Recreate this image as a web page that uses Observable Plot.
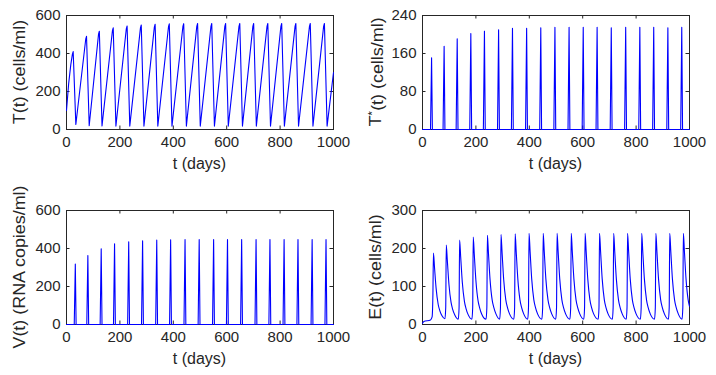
<!DOCTYPE html>
<html><head><meta charset="utf-8">
<script src="https://cdn.jsdelivr.net/npm/d3@7"></script>
<script src="https://cdn.jsdelivr.net/npm/@observablehq/plot@0.6"></script>
<style>
html,body{margin:0;padding:0;background:#fff;}
#fig{position:relative;width:716px;height:375px;overflow:hidden;background:#fff;}
#fig > div{position:absolute;}
</style></head><body><div id="fig"></div>
<script>
// ---- tick values ----
const xTickValues = [0, 200, 400, 600, 800, 1000];
const yTicksT = [0, 200, 400, 600];
const yTicksTstar = [0, 80, 160, 240];
const yTicksV = [0, 200, 400, 600];
const yTicksE = [0, 100, 200, 300];

// ---- T(t) : uninfected cells ----
const T_day = [0, 8, 16, 22, 25, 35,
  72, 75, 85, 120, 123, 133, 172, 175, 185, 224, 227, 237, 277, 280, 290,
  329, 332, 342, 382, 385, 395, 436, 439, 449, 488, 491, 501, 541, 544, 554,
  593, 596, 606, 646, 649, 659, 698, 701, 711, 751, 754, 764, 803, 806, 816,
  856, 859, 869, 910, 913, 923, 963, 966, 976, 1000];
const T_val = [100, 240, 340, 395, 410, 26,
  475, 490, 20, 502, 517, 19, 520, 535, 18, 530, 545, 18, 535, 550, 18,
  539, 554, 18, 541, 556, 18, 542, 557, 18, 543, 558, 18, 543, 558, 18,
  543, 558, 18, 543, 558, 18, 543, 558, 18, 543, 558, 18, 543, 558, 18,
  543, 558, 18, 543, 558, 18, 543, 558, 18, 300];

// ---- T*(t) : infected cells ----
const Tstar_day = [0, 30, 34, 37, 77, 81, 84, 126, 130, 133, 177, 181, 184,
  228, 232, 235, 281, 285, 288, 333, 337, 340, 386, 390, 393, 439, 443, 446,
  492, 496, 499, 545, 549, 552, 598, 602, 605, 650, 654, 657, 703, 707, 710,
  757, 761, 764, 810, 814, 817, 862, 866, 869, 915, 919, 922, 967, 971, 974, 1000];
const Tstar_val = [0, 0, 151, 0, 0, 175, 0, 0, 191, 0, 0, 202, 0,
  0, 207, 0, 0, 210, 0, 0, 213, 0, 0, 213, 0, 0, 214, 0,
  0, 215, 0, 0, 215, 0, 0, 215, 0, 0, 215, 0, 0, 214, 0,
  0, 215, 0, 0, 215, 0, 0, 215, 0, 0, 214, 0, 0, 215, 0, 0];

// ---- V(t) : virus ----
const V_day = [0, 29, 33, 36, 76, 80, 83, 126, 130, 133, 176, 180, 183,
  229, 233, 236, 281, 285, 288, 334, 338, 341, 386, 390, 393, 440, 444, 447,
  493, 497, 500, 547, 551, 554, 599, 603, 606, 652, 656, 659, 706, 710, 713,
  758, 762, 765, 811, 815, 818, 863, 867, 870, 916, 920, 923, 968, 972, 975, 1000];
const V_val = [0, 0, 318, 0, 0, 363, 0, 0, 398, 0, 0, 425, 0,
  0, 435, 0, 0, 441, 0, 0, 444, 0, 0, 446, 0, 0, 447, 0,
  0, 447, 0, 0, 447, 0, 0, 447, 0, 0, 447, 0, 0, 447, 0,
  0, 447, 0, 0, 447, 0, 0, 447, 0, 0, 447, 0, 0, 447, 0, 0];

// ---- E(t) : effector cells ----
const E_day = [0, 5, 30, 36, 39,
  41, 45, 51, 59, 65, 73,
  84, 87, 89, 93, 99, 107, 113, 121,
  134, 137, 139, 143, 149, 157, 163, 171,
  185, 188, 190, 194, 200, 208, 214, 222,
  238, 241, 243, 247, 253, 261, 267, 275,
  289, 292, 294, 298, 304, 312, 318, 326,
  342, 345, 347, 351, 357, 365, 371, 379,
  394, 397, 399, 403, 409, 417, 423, 431,
  447, 450, 452, 456, 462, 470, 476, 484,
  499, 502, 504, 508, 514, 522, 528, 536,
  552, 555, 557, 561, 567, 575, 581, 589,
  604, 607, 609, 613, 619, 627, 633, 641,
  658, 661, 663, 667, 673, 681, 687, 695,
  711, 714, 716, 720, 726, 734, 740, 748,
  763, 766, 768, 772, 778, 786, 792, 800,
  816, 819, 821, 825, 831, 839, 845, 853,
  869, 872, 874, 878, 884, 892, 898, 906,
  921, 924, 926, 930, 936, 944, 950, 958,
  972, 975, 977, 981, 987, 995, 1000];
const E_val = [3, 8, 12, 20, 80,
  188, 150, 95, 52, 36, 23,
  15, 45, 209, 168, 106, 58, 40, 25,
  14, 45, 222, 178, 112, 61, 42, 26,
  14, 45, 230, 184, 116, 63, 44, 27,
  14, 45, 235, 188, 118, 64, 45, 28,
  14, 45, 237, 190, 119, 65, 45, 28,
  14, 45, 239, 191, 120, 65, 45, 28,
  14, 45, 240, 192, 120, 65, 45, 28,
  14, 45, 240, 192, 120, 65, 45, 28,
  14, 45, 240, 192, 120, 65, 45, 28,
  14, 45, 240, 192, 120, 65, 45, 28,
  14, 45, 240, 192, 120, 65, 45, 28,
  14, 45, 240, 192, 120, 65, 45, 28,
  14, 45, 240, 192, 120, 65, 45, 28,
  14, 45, 240, 192, 120, 65, 45, 28,
  14, 45, 240, 192, 120, 65, 45, 28,
  14, 45, 240, 192, 120, 65, 45, 28,
  14, 45, 240, 192, 120, 65, 45, 28,
  14, 45, 240, 192, 120, 65, 48];

const FONT = '"Liberation Sans", Arial, Helvetica, sans-serif';
const INK = "#262626";
const YSTRETCH = 1.12; // the reference's rotated labels run a little longer

function panel({left, top, width, height, day, value, yDomain, yTicks, ylabel, curve}) {
  const mL = 66, mT = 15, pw = 267, ph = 114;
  const mR = width - mL - pw, mB = height - mT - ph;
  const data = day.map((d, i) => ({t: d, v: value[i]}));
  const tl = 3.5;
  const svg = Plot.plot({
    width, height,
    marginLeft: mL, marginRight: mR, marginTop: mT, marginBottom: mB,
    style: {fontFamily: FONT, fontSize: "15px", color: INK, background: "#fff", overflow: "visible"},
    x: {domain: [0, 1000]},
    y: {domain: yDomain},
    marks: [
      Plot.frame({stroke: INK, strokeWidth: 1}),
      Plot.tickX(xTickValues, {x: d => d, insetTop: ph - tl, stroke: INK}),
      Plot.tickX(xTickValues, {x: d => d, insetBottom: ph - tl, stroke: INK}),
      Plot.tickY(yTicks, {y: d => d, insetRight: pw - tl, stroke: INK}),
      Plot.tickY(yTicks, {y: d => d, insetLeft: pw - tl, stroke: INK}),
      Plot.axisX({ticks: xTickValues, tickFormat: d => String(d), tickSize: 0, tickPadding: 7, label: null, fill: INK}),
      Plot.axisY({ticks: yTicks, tickFormat: d => String(d), tickSize: 0, tickPadding: 6, label: null, fill: INK}),
      Plot.line(data, {x: "t", y: "v", stroke: "#0000ff", strokeWidth: 1.1, curve})
    ]
  });
  const s = d3.select(svg);
  // x label
  s.append("text")
    .attr("x", mL + pw / 2).attr("y", mT + ph + 40)
    .attr("text-anchor", "middle").attr("font-family", FONT).attr("font-size", 16).attr("fill", INK)
    .text("t (days)");
  // y label (with optional superscript)
  const yl = s.append("text")
    .attr("transform", `translate(25,${mT + ph / 2}) rotate(-90) scale(${YSTRETCH},1)`)
    .attr("text-anchor", "middle").attr("font-family", FONT).attr("font-size", 16).attr("fill", INK);
  ylabel.forEach(part => {
    const ts = yl.append("tspan").text(part.text);
    if (part.sup) ts.attr("dy", "-0.45em").attr("font-size", 11);
    if (part.after) ts.attr("dy", "0.45em");
  });
  const holder = document.createElement("div");
  holder.style.left = left + "px";
  holder.style.top = top + "px";
  holder.appendChild(svg);
  document.getElementById("fig").appendChild(holder);
}

panel({left: 0, top: 0, width: 356, height: 190, day: T_day, value: T_val,
  yDomain: [0, 600], yTicks: yTicksT, curve: "linear",
  ylabel: [{text: "T(t) (cells/ml)"}]});
panel({left: 356, top: 0, width: 360, height: 190, day: Tstar_day, value: Tstar_val,
  yDomain: [0, 240], yTicks: yTicksTstar, curve: "linear",
  ylabel: [{text: "T"}, {text: "*", sup: true}, {text: "(t) (cells/ml)", after: true}]});
panel({left: 0, top: 195, width: 356, height: 180, day: V_day, value: V_val,
  yDomain: [0, 600], yTicks: yTicksV, curve: "linear",
  ylabel: [{text: "V(t) (RNA copies/ml)"}]});
panel({left: 356, top: 195, width: 360, height: 180, day: E_day, value: E_val,
  yDomain: [0, 300], yTicks: yTicksE, curve: "monotone-x",
  ylabel: [{text: "E(t) (cells/ml)"}]});
</script>
</body></html>
